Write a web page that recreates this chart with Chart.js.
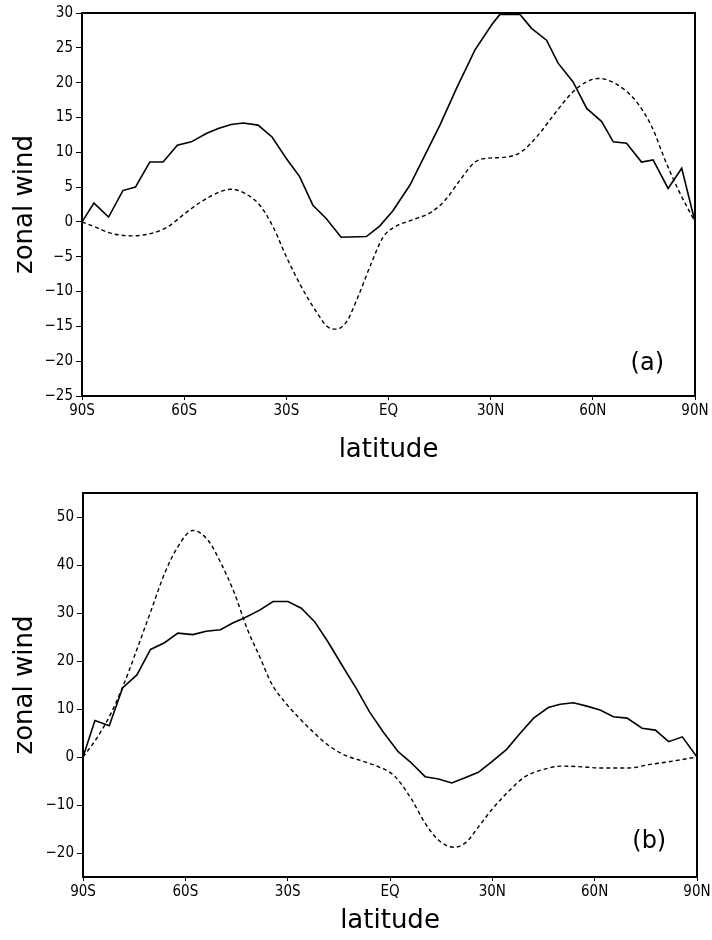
<!DOCTYPE html>
<html>
<head>
<meta charset="utf-8">
<script src="https://cdn.jsdelivr.net/npm/chart.js@4.4.1/dist/chart.umd.min.js"></script>
<style>
  body { margin: 0; background: #fff; }
  canvas { display: block; }
</style>
</head>
<body>
<canvas id="chartA" width="712" height="470"></canvas>
<canvas id="chartB" width="712" height="470"></canvas>
<script>
// latitude ticks shared by both panels
const latTicks = [-90, -60, -30, 0, 30, 60, 90];
const latTickLabels = ["90S", "60S", "30S", "EQ", "30N", "60N", "90N"];

// panel (a)
const yTicksA = [-25, -20, -15, -10, -5, 0, 5, 10, 15, 20, 25, 30];
const latSolidA = [-90, -86.5, -82.2, -78, -74.3, -70.1, -66.2, -62, -57.9, -53.5, -50, -46.2, -42.7, -38.3, -34.2, -30, -26.1, -22.2, -18.3, -13.9, -6.5, -2.6, 1.3, 6.3, 10.7, 15.1, 20, 25.4, 30.3, 32.7, 38.6, 42, 46.4, 49.8, 54.2, 58.2, 62.6, 66, 69.9, 74.3, 77.7, 82.1, 86.1, 90];
const windSolidA = [0, 2.7, 0.7, 4.5, 5.0, 8.6, 8.6, 11.0, 11.5, 12.7, 13.4, 14.0, 14.2, 13.9, 12.2, 9.1, 6.5, 2.4, 0.5, -2.2, -2.1, -0.6, 1.6, 5.3, 9.6, 13.9, 19.2, 24.7, 28.3, 29.8, 29.8, 27.8, 26.1, 22.8, 20.1, 16.3, 14.4, 11.5, 11.3, 8.6, 8.9, 4.8, 7.7, 0];
const latDashA = [-90, -86.3, -81.4, -75.5, -69.6, -64.8, -59.8, -55, -50.1, -46.2, -42.2, -37.8, -33.9, -30, -25.6, -21.2, -17.8, -15.3, -12.4, -9, -5.1, -1.6, 1.9, 6.8, 12.7, 16.6, 21, 25.4, 28.3, 35.2, 39.1, 44, 48.9, 53.8, 57.7, 61.6, 66.5, 72.4, 77.3, 81.2, 85.1, 90];
const windDashA = [0, -0.7, -1.65, -2.0, -1.65, -0.7, 1.2, 2.9, 4.2, 4.7, 4.1, 2.4, -0.7, -5.0, -9.3, -12.9, -15.1, -15.4, -14.4, -10.8, -6.0, -2.2, -0.7, 0.25, 1.45, 3.1, 6.0, 8.6, 9.1, 9.35, 10.1, 12.5, 15.6, 18.5, 20.0, 20.6, 19.9, 17.5, 13.7, 8.9, 4.6, 0];

// panel (b)
const yTicksB = [-20, -10, 0, 10, 20, 30, 40, 50];
const latSolidB = [-90, -86.5, -82.3, -78.4, -74.2, -70.2, -66.1, -62.2, -57.8, -53.9, -49.7, -46.1, -42.6, -38.2, -34.3, -29.9, -26, -22.1, -18.2, -13.8, -9.9, -6, -2.1, 2.4, 5.9, 10.3, 14.2, 18.1, 22, 25.9, 29.8, 34.2, 38.1, 42.1, 46.4, 49.9, 53.8, 57.7, 61.6, 65.5, 69.5, 73.9, 77.8, 81.7, 85.7, 90];
const windSolidB = [0, 7.6, 6.5, 14.4, 17.1, 22.4, 23.8, 25.8, 25.5, 26.2, 26.5, 27.9, 29.0, 30.6, 32.4, 32.4, 31.0, 28.2, 24.0, 18.8, 14.3, 9.4, 5.3, 1.1, -1.0, -4.1, -4.6, -5.4, -4.3, -3.2, -1.0, 1.6, 4.9, 8.1, 10.3, 11.0, 11.3, 10.6, 9.8, 8.4, 8.1, 6.0, 5.6, 3.2, 4.2, 0];
const latDashB = [-90, -85.7, -81.8, -77.9, -73.9, -70, -66.1, -62.2, -57.8, -53.4, -49.5, -45.6, -41.7, -38.2, -34.8, -30.9, -27, -23.1, -18.2, -13.3, -7.4, -3.5, 0.4, 2.4, 6.4, 10.3, 14.2, 18.6, 22.1, 26, 29.8, 34.7, 39.6, 44.5, 50.3, 55.2, 62.1, 69.9, 75.8, 81.6, 90];
const windDashB = [0, 4.2, 9.1, 15.4, 23.0, 30.6, 38.2, 43.8, 47.2, 45.2, 40.3, 34.1, 26.4, 20.9, 15.4, 11.5, 8.4, 5.6, 2.5, 0.4, -1.0, -2.0, -3.4, -4.8, -8.9, -13.8, -17.3, -18.8, -17.9, -14.5, -11.0, -7.2, -4.1, -2.7, -1.9, -2.0, -2.3, -2.3, -1.6, -1.0, 0];

const tickFont = { family: "'DejaVu Sans Condensed', 'DejaVu Sans', sans-serif", size: 15 };
const titleFont = { family: "'DejaVu Sans', sans-serif", size: 26 };

const toPoints = (lats, vals) => lats.map((x, i) => ({ x, y: vals[i] }));

// box round the plot area plus the panel tag
const framePlugin = {
  id: "frame",
  afterDraw(chart, args, opts) {
    const { ctx, chartArea: a } = chart;
    ctx.save();
    ctx.strokeStyle = "#000";
    ctx.lineWidth = 2;
    ctx.strokeRect(a.left, a.top, a.right - a.left, a.bottom - a.top);
    ctx.fillStyle = "#000";
    ctx.font = "24px 'DejaVu Sans', sans-serif";
    ctx.textAlign = "center";
    ctx.textBaseline = "middle";
    ctx.fillText(opts.label, chart.scales.x.getPixelForValue(opts.at[0]), chart.scales.y.getPixelForValue(opts.at[1]));
    ctx.restore();
  }
};

function makeChart(id, o) {
  return new Chart(document.getElementById(id), {
    type: "line",
    data: {
      datasets: [
        {
          data: toPoints(o.latSolid, o.windSolid),
          borderColor: "#000", borderWidth: 1.6, pointRadius: 0, tension: 0,
        },
        {
          data: toPoints(o.latDash, o.windDash),
          borderColor: "#000", borderWidth: 1.4, borderDash: [4, 3], pointRadius: 0,
          cubicInterpolationMode: "monotone",
        },
      ],
    },
    options: {
      responsive: false,
      animation: false,
      layout: { padding: o.padding },
      scales: {
        x: {
          type: "linear", min: -90, max: 90,
          afterBuildTicks: (s) => { s.ticks = latTicks.map(v => ({ value: v })); },
          afterFit: (s) => { s.height = o.xHeight; s.paddingLeft = 0; s.paddingRight = 0; },
          ticks: {
            color: "#000", font: tickFont, padding: 2, maxRotation: 0,
            callback: (v) => latTickLabels[latTicks.indexOf(v)],
          },
          grid: { drawOnChartArea: false, tickLength: 4, tickColor: "#000" },
          border: { color: "#000", width: 2 },
          title: { display: true, text: "latitude", color: "#000", font: titleFont, padding: { bottom: o.xTitlePad } },
        },
        y: {
          type: "linear", min: o.yMin, max: o.yMax,
          afterBuildTicks: (s) => { s.ticks = o.yTicks.map(v => ({ value: v })); },
          afterFit: (s) => { s.width = o.yWidth; },
          ticks: {
            color: "#000", font: tickFont, padding: 3,
            callback: (v) => String(v).replace("-", "\u2212"),
          },
          grid: { drawOnChartArea: false, tickLength: 6, tickColor: "#000" },
          border: { color: "#000", width: 2 },
          title: { display: true, text: "zonal wind", color: "#000", font: titleFont, padding: { top: 10 } },
        },
      },
      plugins: {
        legend: { display: false },
        tooltip: { enabled: false },
        frame: { label: o.label, at: o.labelAt },
      },
    },
    plugins: [framePlugin],
  });
}

makeChart("chartA", {
  latSolid: latSolidA, windSolid: windSolidA, latDash: latDashA, windDash: windDashA,
  yMin: -25, yMax: 30, yTicks: yTicksA,
  padding: { top: 13, right: 17, bottom: 0, left: 0 },
  yWidth: 82, xHeight: 74, xTitlePad: 4,
  label: "(a)", labelAt: [76, -20.3],
});

makeChart("chartB", {
  latSolid: latSolidB, windSolid: windSolidB, latDash: latDashB, windDash: windDashB,
  yMin: -25, yMax: 55, yTicks: yTicksB,
  padding: { top: 23, right: 15, bottom: 0, left: 0 },
  yWidth: 83, xHeight: 63, xTitlePad: 3,
  label: "(b)", labelAt: [76, -17.6],
});
</script>
</body>
</html>
